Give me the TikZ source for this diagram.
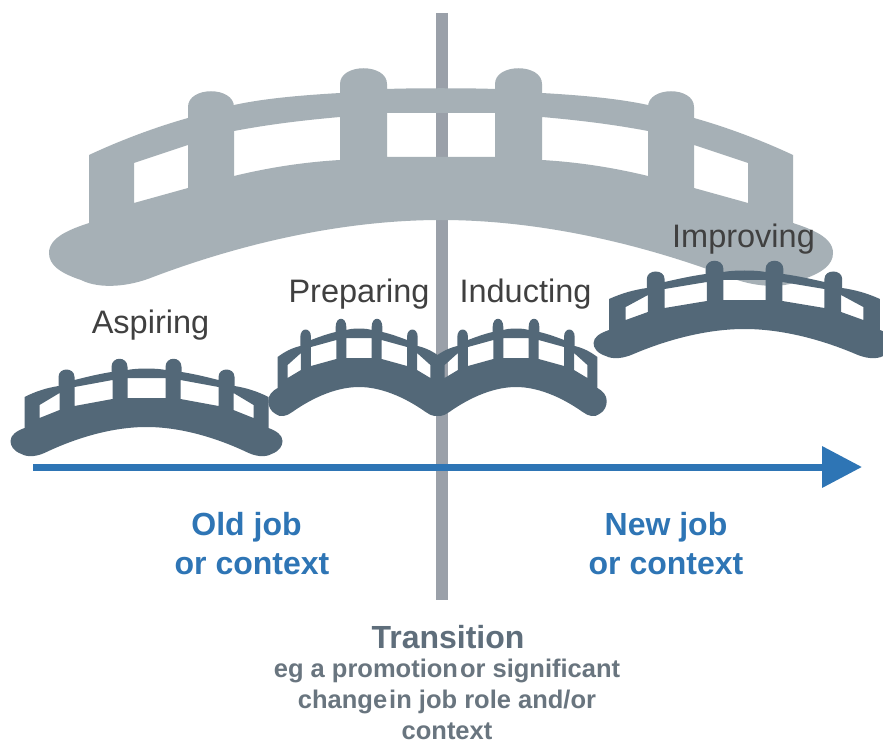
\documentclass[tikz,border=0pt]{standalone}
\usepackage{fontspec}
\setmainfont{Liberation Sans}
\usetikzlibrary{arrows.meta}
\definecolor{bigcol}{HTML}{A6B0B6}
\definecolor{smallcol}{HTML}{536878}
\definecolor{linecol}{HTML}{9AA0A9}
\definecolor{labelcol}{HTML}{404040}
\definecolor{bluecol}{HTML}{2E75B5}
\definecolor{transcol}{HTML}{5F6E7B}
\definecolor{notecol}{HTML}{69757F}
\newcommand{\smallbridge}[3]{%
\begin{scope}[shift={(#1,#2)},xscale=#3]
\fill[smallcol,even odd rule]
 (-136,14) .. controls (-136,8) and (-130,4) .. (-122,1)
 -- (-122,-30) .. controls (-110,-36) and (-100,-39) .. (-88,-41)
 -- (-88,-50) .. controls (-88,-60) and (-72,-60) .. (-72,-50)
 -- (-72,-47) .. controls (-60,-50) and (-48,-53) .. (-35,-55)
 -- (-35,-60) .. controls (-35,-71) and (-19,-71) .. (-19,-60)
 -- (-19,-57) .. controls (-10,-59) and (10,-59) .. (19,-57)
 -- (19,-60) .. controls (19,-71) and (35,-71) .. (35,-60)
 -- (35,-55) .. controls (48,-53) and (60,-50) .. (72,-47)
 -- (72,-50) .. controls (72,-60) and (88,-60) .. (88,-50)
 -- (88,-41) .. controls (100,-39) and (110,-36) .. (122,-30)
 -- (122,1) .. controls (130,4) and (136,8) .. (136,14)
 .. controls (136,19) and (133,24) .. (125,27)
 .. controls (118,31) and (108,29) .. (100,25)
 .. controls (66,9) and (31,0) .. (0,0)
 .. controls (-31,0) and (-66,9) .. (-100,25)
 .. controls (-108,29) and (-118,31) .. (-125,27)
 .. controls (-133,24) and (-136,19) .. (-136,14) -- cycle
 (-107,-22) -- (-87,-34) -- (-87,-17) -- (-107,-9) -- cycle
 (-72,-40) -- (-34,-47) -- (-34,-28) -- (-72,-21) -- cycle
 (-19,-49) -- (19,-49) -- (19,-29) -- (-19,-29) -- cycle
 (107,-22) -- (87,-34) -- (87,-17) -- (107,-9) -- cycle
 (72,-40) -- (34,-47) -- (34,-28) -- (72,-21) -- cycle;
\end{scope}}
\tikzset{
 steplabel/.style={text=labelcol,font=\fontsize{32.5}{36}\selectfont,inner sep=0pt,anchor=base},
 sidelabel/.style={text=bluecol,font=\bfseries\fontsize{32}{39}\selectfont,inner sep=0pt,align=center},
 translabel/.style={text=transcol,font=\bfseries\fontsize{32}{36}\selectfont,inner sep=0pt},
 notelabel/.style={text=notecol,font=\bfseries\fontsize{25.5}{31}\selectfont,inner sep=0pt,align=center},
}
\begin{document}
\begin{tikzpicture}[x=1pt,y=-1pt]
\useasboundingbox (0,0) rectangle (883,743);
\clip (0,0) rectangle (883,743);
\fill[white] (0,0) rectangle (883,743);
\coordinate (gtop) at (442,13);
\coordinate (gbot) at (442,600);
\coordinate (astart) at (33,467);
\coordinate (aend) at (862,467);
\draw[linecol,line width=11.5pt] (gtop) -- (gbot);
\begin{scope}[shift={(441,220)}]
\fill[bigcol,even odd rule]
 (-392,33) .. controls (-392,17) and (-370,9) .. (-352,3)
 -- (-352,-65) .. controls (-320,-80) and (-285,-93) .. (-253,-102)
 -- (-253,-113) .. controls (-253,-134) and (-207,-134) .. (-207,-113)
 -- (-207,-115) .. controls (-175,-122) and (-135,-125) .. (-101,-127)
 -- (-101,-136) .. controls (-101,-157) and (-54,-157) .. (-54,-136)
 -- (-54,-131) .. controls (-30,-132) and (30,-132) .. (54,-131)
 -- (54,-136) .. controls (54,-157) and (101,-157) .. (101,-136)
 -- (101,-127) .. controls (135,-125) and (175,-122) .. (207,-115)
 -- (207,-113) .. controls (207,-134) and (253,-134) .. (253,-113)
 -- (253,-102) .. controls (285,-93) and (320,-80) .. (352,-65)
 -- (352,3) .. controls (370,9) and (392,17) .. (392,33)
 .. controls (392,45) and (381,53) .. (360,60)
 .. controls (340,70) and (310,66) .. (288,57)
 .. controls (190,20) and (90,0) .. (0,0)
 .. controls (-90,0) and (-190,20) .. (-288,57)
 .. controls (-310,66) and (-340,70) .. (-360,60)
 .. controls (-381,53) and (-392,45) .. (-392,33) -- cycle
 (-307,-57) -- (-253,-75) -- (-253,-32) -- (-307,-17) -- cycle
 (-207,-89) .. controls (-170,-96) and (-135,-100) .. (-101,-103) -- (-101,-60) .. controls (-135,-58) and (-170,-53) .. (-207,-44) -- cycle
 (-54,-107) -- (54,-107) -- (54,-63) -- (-54,-63) -- cycle
 (207,-89) .. controls (170,-96) and (135,-100) .. (101,-103) -- (101,-60) .. controls (135,-58) and (170,-53) .. (207,-44) -- cycle
 (307,-57) -- (253,-75) -- (253,-32) -- (307,-17) -- cycle;
\end{scope}
\smallbridge{146.5}{427}{1}
\smallbridge{359}{387}{0.667}
\smallbridge{516}{387}{0.667}
\smallbridge{744.5}{329}{1.11}
\draw[bluecol,line width=7pt,-{Triangle[length=40pt,width=40pt]}] (astart) -- (aend);
\node[steplabel] (aspiring) at (150.5,333) {Aspiring};
\node[steplabel] (preparing) at (359,302) {Preparing};
\node[steplabel] (inducting) at (525.5,302) {Inducting};
\node[steplabel] (improving) at (743.5,248) {Improving};
\node[sidelabel] (oldjob) at (252,544) {Old job\hspace*{11pt}\\or context};
\node[sidelabel] (newjob) at (666,544) {New job\\or context};
\node[translabel] (transition) at (448,637) {Transition};
\node[notelabel] (note) at (447,699) {eg a promotion\hspace{2pt}or significant\\change\hspace{2pt}in job role and/or\\context};
\end{tikzpicture}
\end{document}
